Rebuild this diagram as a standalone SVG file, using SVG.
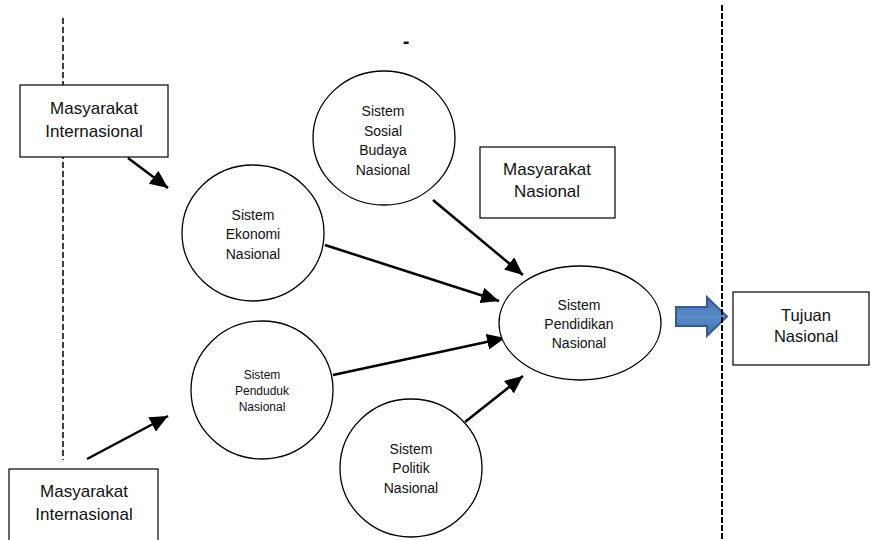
<svg xmlns="http://www.w3.org/2000/svg" width="871" height="540" viewBox="0 0 871 540">
<style>
  .box { fill: #fff; stroke: #000; stroke-width: 1.2; }
  .node { fill: #fff; stroke: #000; stroke-width: 1.3; }
  .t { font-family: "Liberation Sans", Arial, sans-serif; fill: #111; text-anchor: middle; }
  .big { font-size: 17px; }
  .mid { font-size: 14px; }
  .sm { font-size: 12px; }
  .conn { stroke: #000; stroke-width: 2.5; fill: none; marker-end: url(#ah); }
  .dash1 { stroke: #000; stroke-width: 1.5; stroke-dasharray: 6 3; fill: none; }
  .dash2 { stroke: #000; stroke-width: 2; stroke-dasharray: 6 2; fill: none; }
</style>
<defs>
  <marker id="ah" markerUnits="userSpaceOnUse" markerWidth="20" markerHeight="16" refX="18" refY="8" orient="auto">
    <path d="M0,0 L18,8 L0,16 Z" fill="#000"/>
  </marker>
  <linearGradient id="blue" x1="0" y1="0" x2="0" y2="1">
    <stop offset="0" stop-color="#3f6fa8"/>
    <stop offset="0.5" stop-color="#5b8ccb"/>
    <stop offset="1" stop-color="#3f6fa8"/>
  </linearGradient>
</defs>
<rect width="871" height="540" fill="#fff"/>

<g id="boundaries">
  <line class="dash1" x1="63" y1="18" x2="63" y2="460"/>
</g>

<text class="t" x="406" y="48" style="font-size:20px;font-weight:bold">-</text>

<g id="connectors">
  <line class="conn" x1="128" y1="158" x2="168" y2="188"/>
  <line class="conn" x1="87" y1="459" x2="168" y2="416"/>
  <line class="conn" x1="325" y1="245" x2="499" y2="301"/>
  <line class="conn" x1="433" y1="200" x2="523" y2="275"/>
  <line class="conn" x1="333" y1="375" x2="505" y2="338"/>
  <line class="conn" x1="465" y1="422" x2="523" y2="376"/>
  <polygon id="block-arrow" points="676,307 707,307 707,297 727,316.5 707,336 707,326 676,326" fill="url(#blue)" stroke="#385d8a" stroke-width="2"/>
</g>

<g id="masyarakat-internasional-top">
  <rect class="box" x="20" y="85" width="148" height="72"/>
  <text class="t big" x="94" y="114">Masyarakat</text>
  <text class="t big" x="94" y="137">Internasional</text>
</g>

<g id="masyarakat-internasional-bottom">
  <rect class="box" x="9" y="469" width="149" height="80"/>
  <text class="t big" x="84" y="497">Masyarakat</text>
  <text class="t big" x="84" y="520">Internasional</text>
</g>

<g id="sistem-ekonomi">
  <ellipse class="node" cx="253" cy="233" rx="71" ry="68"/>
  <text class="t mid" x="253" y="220">Sistem</text>
  <text class="t mid" x="253" y="239">Ekonomi</text>
  <text class="t mid" x="253" y="259">Nasional</text>
</g>

<g id="sistem-sosial-budaya">
  <ellipse class="node" cx="384" cy="138" rx="71" ry="67"/>
  <text class="t mid" x="383" y="116">Sistem</text>
  <text class="t mid" x="383" y="136">Sosial</text>
  <text class="t mid" x="383" y="155">Budaya</text>
  <text class="t mid" x="383" y="175">Nasional</text>
</g>

<g id="masyarakat-nasional">
  <rect class="box" x="480" y="147" width="135" height="71"/>
  <text class="t big" x="547" y="175">Masyarakat</text>
  <text class="t big" x="547" y="197">Nasional</text>
</g>

<g id="sistem-penduduk">
  <ellipse class="node" cx="262" cy="390" rx="71" ry="69"/>
  <text class="t sm" x="262" y="379">Sistem</text>
  <text class="t sm" x="262" y="395">Penduduk</text>
  <text class="t sm" x="262" y="411">Nasional</text>
</g>

<g id="sistem-politik">
  <ellipse class="node" cx="411" cy="468" rx="71" ry="69"/>
  <text class="t mid" x="411" y="454">Sistem</text>
  <text class="t mid" x="411" y="473">Politik</text>
  <text class="t mid" x="411" y="493">Nasional</text>
</g>

<g id="sistem-pendidikan">
  <ellipse class="node" cx="580" cy="323" rx="81" ry="57"/>
  <text class="t mid" x="579" y="310">Sistem</text>
  <text class="t mid" x="579" y="329">Pendidikan</text>
  <text class="t mid" x="579" y="348">Nasional</text>
</g>

<g id="boundary-right">
  <line class="dash2" x1="722" y1="5" x2="722" y2="540"/>
</g>

<g id="tujuan-nasional">
  <rect class="box" x="733" y="292" width="136" height="73"/>
  <text class="t" x="806" y="321" style="font-size:16.5px">Tujuan</text>
  <text class="t" x="806" y="342" style="font-size:16.5px">Nasional</text>
</g>
</svg>
